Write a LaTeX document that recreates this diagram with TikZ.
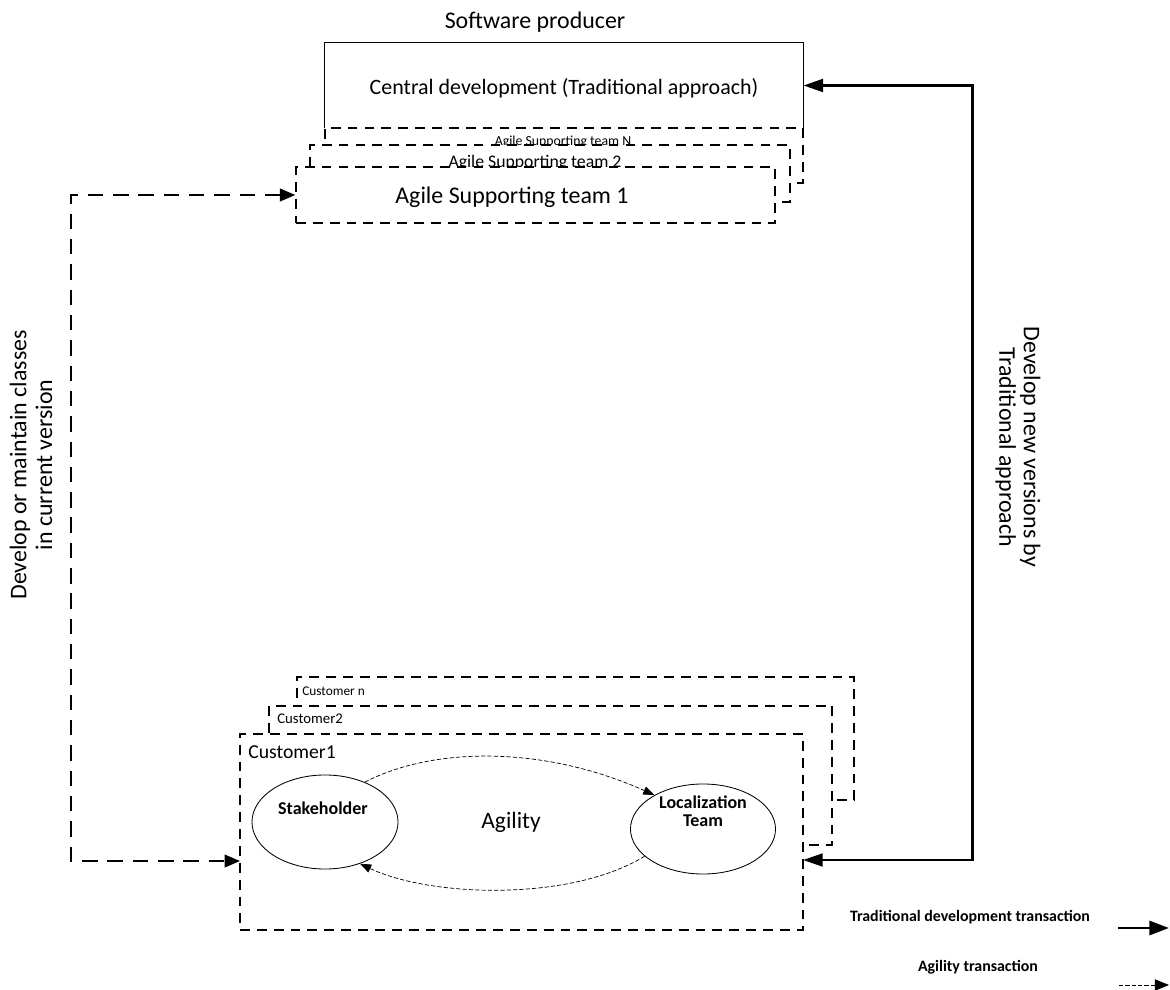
\documentclass[tikz,border=0pt]{standalone}
\usepackage{fontspec}
\setmainfont{Carlito}
\usepackage{tikz}
\usetikzlibrary{positioning}
\usetikzlibrary{arrows.meta}
\usetikzlibrary{shapes.geometric}
\tikzset{plainbox/.style={inner sep=0pt, fill=white}}
\tikzset{dashbox/.style={draw, line width=0.9pt, dash pattern=on 7pt off 5pt, inner sep=0pt, fill=white}}
\tikzset{actor/.style={draw, ellipse, line width=0.6pt, inner sep=0pt}}
\tikzset{tradline/.style={line width=2.1pt, arrows={Triangle[length=14pt,width=9pt]-Triangle[length=14pt,width=9pt]}}}
\tikzset{devline/.style={line width=1.6pt, dash pattern=on 11pt off 7pt, arrows={Triangle[length=11pt,width=9pt]-Triangle[length=11pt,width=9pt]}}}
\tikzset{agileflow/.style={line width=0.5pt, dash pattern=on 3pt off 1.5pt, arrows={-Triangle[length=8pt,width=6pt]}}}
\newcommand{\fs}[1]{\fontsize{#1}{1.2\dimexpr#1pt\relax}\selectfont}

\begin{document}
\begin{tikzpicture}[x=0.025cm, y=-0.025cm]
\useasboundingbox (0,0) rectangle (1170,990);

% producer side
\node (producer) at (535,22) {\fs{17}Software producer};
\node[plainbox, minimum width=11.95cm, minimum height=2.125cm] (central) at (564,85.5) {};
\draw[line width=0.7pt] (central.south west) |- (central.north east) -- (central.south east);
\node (centraltxt) at (564,88) {\fs{15.6}Central development (Traditional approach)};
\node[dashbox, minimum width=11.95cm, minimum height=1.375cm] (teamN) at (564,155.5) {};
\node (teamNtxt) at (563,142) {\fs{9.8}Agile Supporting team N};
\node[dashbox, minimum width=12cm, minimum height=1.425cm] (team2) at (550,173.5) {};
\node (team2txt) at (535,163) {\fs{12.6}Agile Supporting team 2};
\node[dashbox, minimum width=11.975cm, minimum height=1.4cm] (team1) at (535.5,195) {};
\node (team1txt) at (512,197) {\fs{17}Agile Supporting team 1};

% customer side
\node[dashbox, minimum width=13.925cm, minimum height=3.075cm] (custN) at (575.5,738.5) {};
\node[anchor=west, inner sep=0pt] (custNtxt) at (302,691) {\fs{9.5}Customer n};
\node[dashbox, minimum width=14.075cm, minimum height=3.475cm] (cust2) at (550.5,775.5) {};
\node[anchor=west, inner sep=0pt] (cust2txt) at (277,719) {\fs{10.5}Customer2};
\node[dashbox, minimum width=14.075cm, minimum height=4.9cm] (cust1) at (521.5,832) {};
\node[anchor=west, inner sep=0pt] (cust1txt) at (248,752) {\fs{14}Customer1};

\node[actor, minimum width=3.65cm, minimum height=2.35cm] (stake) at (325,822) {};
\node (staketxt) at (323,808) {\bfseries\fs{12.8}Stakeholder};
\node[actor, minimum width=3.625cm, minimum height=2.25cm] (local) at (703,829) {};
\node[align=center, inner sep=0pt] (localtxt) at (703,811) {\bfseries\fs{12.8}Localization\\[1pt]\bfseries\fs{12.8}Team};
\node (agility) at (511,822) {\fs{16.7}Agility};
\draw[agileflow] (stake.45) .. controls (430,748) and (540,744) .. (local.145);
\draw[agileflow] (local.205) .. controls (570,902) and (430,897) .. (stake.310);

% transactions
\coordinate (custleft) at (240,861);
\coordinate (custright) at (803,860);
\draw[devline] (team1.west) -- ++(-224,0) |- (custleft);
\draw[tradline] (central.east) -- ++(169,0) |- (custright);
\node[rotate=90, align=center] (devlabel) at (31,465) {\fs{17}Develop or maintain classes\\[3pt]\fs{17}in current version};
\node[rotate=-90, align=center] (newlabel) at (1018,447) {\fs{17}Develop new versions by\\[2pt]\fs{17}Traditional approach};

% legend
\node (legtrad) at (970,917) {\bfseries\fs{11.3}Traditional development transaction};
\node (legagile) at (978,967) {\bfseries\fs{11.3}Agility transaction};
\coordinate (tradA) at (1118,928);
\coordinate (tradB) at (1169,928);
\coordinate (agileA) at (1119,985);
\coordinate (agileB) at (1169,985);
\draw[line width=2.1pt, -{Triangle[length=14pt,width=10pt]}] (tradA) -- (tradB);
\draw[line width=0.6pt, dash pattern=on 3pt off 1.5pt, -{Triangle[length=10pt,width=8pt]}] (agileA) -- (agileB);
\end{tikzpicture}
\end{document}
